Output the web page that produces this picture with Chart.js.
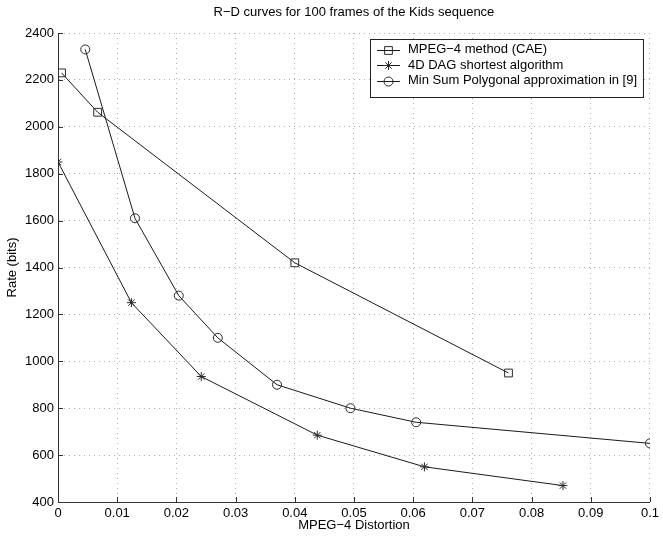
<!DOCTYPE html>
<html><head><meta charset="utf-8">
<script src="https://cdn.jsdelivr.net/npm/chart.js@4/dist/chart.umd.min.js"></script>
<style>html,body{margin:0;padding:0;background:#fff;} #wrap{width:663px;height:536px;position:relative;}</style>
</head><body><div id="wrap"><canvas id="c" width="663" height="536"></canvas></div>
<script>
const chartTitle = "R\u2212D curves for 100 frames of the Kids sequence";
const xAxisTitle = "MPEG\u22124 Distortion";
const yAxisTitle = "Rate (bits)";
const seriesNames = ["MPEG\u22124 method (CAE)", "4D DAG shortest algorithm", "Min Sum Polygonal approximation in [9]"];
const caeX = [0.0006, 0.0067, 0.0400, 0.0761];
const caeY = [2230, 2062, 1420, 950];
const dagX = [0.0, 0.0124, 0.0242, 0.0438, 0.0619, 0.0853];
const dagY = [1850, 1250, 935, 685, 550, 470];
const minSumX = [0.0046, 0.0130, 0.0204, 0.0270, 0.0370, 0.0494, 0.0605, 0.1000];
const minSumY = [2330, 1610, 1280, 1100, 900, 800, 740, 650];
const xTickLabels = ["0","0.01","0.02","0.03","0.04","0.05","0.06","0.07","0.08","0.09","0.1"];
const yTickLabels = ["400","600","800","1000","1200","1400","1600","1800","2000","2200","2400"];

const FONT = "'Liberation Sans', Arial, Helvetica, sans-serif";
function pts(xs, ys){ return xs.map((x,i)=>({x:x, y:ys[i]})); }

const styles = [
  {pointStyle:'rect', pointRadius:5.5},
  {pointStyle:'star', pointRadius:4.5},
  {pointStyle:'circle', pointRadius:4.5}
];

const datasets = [pts(caeX,caeY), pts(dagX,dagY), pts(minSumX,minSumY)].map((d,i)=>({
  label: seriesNames[i],
  data: d,
  showLine: true,
  borderColor: '#1a1a1a',
  borderWidth: 1,
  pointBorderColor: '#2a2a2a',
  pointBackgroundColor: 'rgba(0,0,0,0)',
  pointBorderWidth: 1,
  pointStyle: styles[i].pointStyle,
  pointRadius: styles[i].pointRadius,
  tension: 0,
  fill: false
}));

function drawMarker(ctx, style, r, x, y){
  ctx.save();
  ctx.strokeStyle = '#2a2a2a';
  ctx.lineWidth = 1;
  ctx.beginPath();
  if (style === 'rect') {
    const s = Math.SQRT1_2 * r;
    ctx.rect(x - s, y - s, 2*s, 2*s);
  } else if (style === 'circle') {
    ctx.arc(x, y, r, 0, Math.PI*2);
  } else if (style === 'star') {
    const d = Math.SQRT1_2 * r;
    ctx.moveTo(x - r, y); ctx.lineTo(x + r, y);
    ctx.moveTo(x, y - r); ctx.lineTo(x, y + r);
    ctx.moveTo(x - d, y - d); ctx.lineTo(x + d, y + d);
    ctx.moveTo(x - d, y + d); ctx.lineTo(x + d, y - d);
  }
  ctx.stroke();
  ctx.restore();
}

const decor = {
  id: 'decor',
  afterDraw(chart){
    const ctx = chart.ctx;
    const ca = chart.chartArea;
    const xs = chart.scales.x, ys = chart.scales.y;
    ctx.save();
    // inward tick marks
    ctx.strokeStyle = '#333';
    ctx.lineWidth = 1;
    ctx.beginPath();
    xs.ticks.forEach(t => {
      const px = Math.round(xs.getPixelForValue(t.value)) + 0.5;
      ctx.moveTo(px, ca.bottom); ctx.lineTo(px, ca.bottom - 5);
    });
    ys.ticks.forEach(t => {
      const py = Math.round(ys.getPixelForValue(t.value)) + 0.5;
      ctx.moveTo(ca.left, py); ctx.lineTo(ca.left + 5, py);
    });
    ctx.stroke();

    // titles
    ctx.fillStyle = '#000';
    ctx.font = '13px ' + FONT;
    ctx.textAlign = 'center';
    ctx.textBaseline = 'middle';
    const cx = (ca.left + ca.right) / 2;
    ctx.fillText(chartTitle, cx, 12);
    ctx.fillText(xAxisTitle, cx, 525);
    ctx.save();
    ctx.translate(12, (ca.top + ca.bottom) / 2);
    ctx.rotate(-Math.PI / 2);
    ctx.fillText(yAxisTitle, 0, 0);
    ctx.restore();

    // legend
    const bx = 370, by = ca.top + 6, bw = ca.right - 7 - 370, bh = 58;
    ctx.fillStyle = '#fff';
    ctx.fillRect(bx, by, bw, bh);
    ctx.strokeStyle = '#222';
    ctx.lineWidth = 1;
    ctx.strokeRect(bx + 0.5, by + 0.5, bw, bh);
    ctx.textAlign = 'left';
    ctx.fillStyle = '#000';
    seriesNames.forEach((name, i) => {
      const yy = by + 10.5 + i * 15.5;
      ctx.strokeStyle = '#1a1a1a';
      ctx.beginPath();
      ctx.moveTo(bx + 7, Math.round(yy) + 0.5);
      ctx.lineTo(bx + 30, Math.round(yy) + 0.5);
      ctx.stroke();
      drawMarker(ctx, styles[i].pointStyle, styles[i].pointRadius, bx + 18.5, Math.round(yy) + 0.5);
      ctx.fillText(name, bx + 38, yy);
    });
    ctx.restore();
  }
};

new Chart(document.getElementById('c'), {
  type: 'scatter',
  data: { datasets: datasets },
  options: {
    responsive: false,
    devicePixelRatio: 1,
    animation: false,
    layout: { padding: { top: 33, right: 8, left: 0, bottom: 0 } },
    plugins: { legend: { display: false }, title: { display: false }, tooltip: { enabled: false } },
    scales: {
      x: {
        type: 'linear', min: 0, max: 0.1,
        afterFit: s => { s.height = 34; },
        ticks: {
          stepSize: 0.01, autoSkip: false, maxRotation: 0, padding: 4,
          color: '#000', font: { family: FONT, size: 13 },
          callback: (v, i) => xTickLabels[i]
        },
        grid: { color: '#b0b0b0', lineWidth: 1, drawTicks: false },
        border: { display: true, color: '#333', width: 1, dash: [1, 4] }
      },
      y: {
        type: 'linear', min: 400, max: 2400,
        afterFit: s => { s.width = 58; },
        ticks: {
          stepSize: 200, autoSkip: false, padding: 4,
          color: '#000', font: { family: FONT, size: 13 },
          callback: (v, i) => yTickLabels[i]
        },
        grid: { color: '#b0b0b0', lineWidth: 1, drawTicks: false },
        border: { display: true, color: '#333', width: 1, dash: [1, 4] }
      }
    }
  },
  plugins: [decor]
});
</script>
</body></html>
